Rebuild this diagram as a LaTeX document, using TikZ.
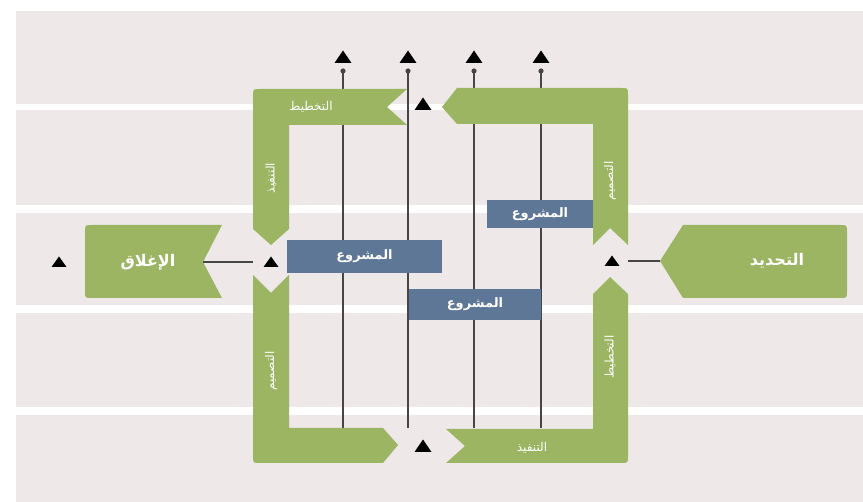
\documentclass[tikz,border=0pt]{standalone}
\usepackage{fontspec}
\newfontfamily\arabicfont[Script=Arabic]{DejaVu Sans}
\TeXXeTstate=1
\definecolor{bgc}{RGB}{238,232,232}
\definecolor{grn}{RGB}{155,181,99}
\definecolor{blu}{RGB}{94,119,150}
\definecolor{linec}{RGB}{70,70,70}
\tikzset{
  vline/.style={draw=linec, line width=1.2pt},
  conn/.style={draw=linec, line width=1.2pt},
  greenpiece/.style={fill=grn},
  barbox/.style={fill=blu, inner sep=0pt, text=white, font=\arabicfont\bfseries\fontsize{13}{15}\selectfont},
  biglbl/.style={text=white, inner sep=0pt, font=\arabicfont\bfseries\fontsize{16}{18}\selectfont},
  smalllbl/.style={text=white, inner sep=0pt, font=\arabicfont\fontsize{12}{14}\selectfont},
  tri/.pic={\fill[black] (-8.5,6) -- (8.5,6) -- (0,-6.5) -- cycle;},
  sidetri/.pic={\fill[black] (-7.5,5) -- (7.5,5) -- (0,-5.5) -- cycle;}
}
\begin{document}
\begin{tikzpicture}[x=1pt,y=-1pt]
\useasboundingbox (0,0) rectangle (863,502);
\fill[white] (0,0) rectangle (863,502);
\foreach \a/\b in {11/104,110/205,213/305,313/407,415/502}
  \fill[bgc] (16,\a) rectangle (863,\b);

% vertical lines
\foreach \n/\x in {a/343,b/408,c/474,d/541}{
  \coordinate (top\n) at (\x,71);
  \coordinate (bot\n) at (\x,428);
  \draw[vline] (top\n) -- (bot\n);
  \fill[linec] (top\n) circle (2.6);
  \pic at (\x,57) {tri};
}

% green frame pieces
\fill[greenpiece] (271,245) -- (253,229) -- (253,96) .. controls (253,89) .. (260,89) -- (407,89) -- (387,107) -- (407,125) -- (289,125) -- (289,229) -- cycle;
\fill[greenpiece] (442,107) -- (457,88) -- (621,88) .. controls (628,88) .. (628,95) -- (628,245) -- (610,228) -- (593,245) -- (593,124) -- (457,124) -- cycle;
\fill[greenpiece] (253,275) -- (271,293) -- (289,275) -- (289,428) -- (383,428) -- (398,445) -- (383,463) -- (260,463) .. controls (253,463) .. (253,456) -- cycle;
\fill[greenpiece] (610,277) -- (628,294) -- (628,456) .. controls (628,463) .. (621,463) -- (446,463) -- (465,446) -- (446,429) -- (593,429) -- (593,294) -- cycle;

% side boxes
\fill[greenpiece] (92,225) -- (222,225) -- (203,262) -- (222,298) -- (92,298) .. controls (85,298) .. (85,291) -- (85,232) .. controls (85,225) .. (92,225) -- cycle;
\fill[greenpiece] (660,261) -- (683,225) -- (840,225) .. controls (847,225) .. (847,232) -- (847,291) .. controls (847,298) .. (840,298) -- (683,298) -- cycle;

% blue project bars
\node[barbox, minimum width=155pt, minimum height=33pt] (proj1) at (364.5,256.5) {\beginR المشروع\endR};
\node[barbox, minimum width=106pt, minimum height=28pt] (proj2) at (540,214) {\beginR المشروع\endR};
\node[barbox, minimum width=132pt, minimum height=31pt] (proj3) at (475,304.5) {\beginR المشروع\endR};

% labels
\node[biglbl] (closing) at (148,262) {\beginR الإغلاق\endR};
\node[biglbl] (defining) at (777,261) {\beginR التحديد\endR};
\node[smalllbl] (plantop) at (311,107) {\beginR التخطيط\endR};
\node[smalllbl] (execbot) at (532,448) {\beginR التنفيذ\endR};
\node[smalllbl, rotate=90] (execleft) at (271,178) {\beginR التنفيذ\endR};
\node[smalllbl, rotate=90] (designright) at (610,181) {\beginR التصميم\endR};
\node[smalllbl, rotate=90] (designleft) at (271,371) {\beginR التصميم\endR};
\node[smalllbl, rotate=90] (planright) at (610,357) {\beginR التخطيط\endR};

% connectors and triangles
\coordinate (closenotch) at (203,262);
\coordinate (closeend) at (253,262);
\coordinate (defend) at (628,261);
\coordinate (deftip) at (660,261);
\draw[conn] (closenotch) -- (closeend);
\draw[conn] (defend) -- (deftip);
\pic at (59,262) {sidetri};
\pic at (271,262) {sidetri};
\pic at (612,261) {sidetri};
\pic at (423,104) {tri};
\pic at (423,446) {tri};
\end{tikzpicture}
\end{document}
